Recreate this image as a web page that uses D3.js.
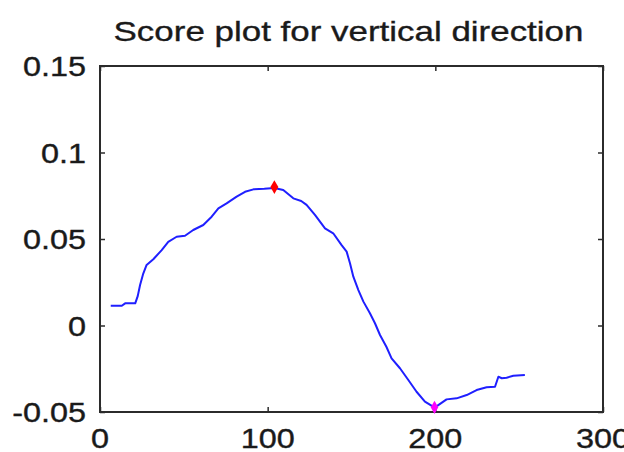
<!DOCTYPE html>
<html>
<head>
<meta charset="utf-8">
<script src="https://cdn.jsdelivr.net/npm/d3@7"></script>
<style>
  html, body { margin: 0; padding: 0; background: #fff; }
  svg { display: block; }
  text { font-family: "Liberation Sans", Arial, sans-serif; fill: #1a1a1a; stroke: #1a1a1a; stroke-width: 0.35px; }
</style>
</head>
<body>
<svg id="chart" width="624" height="452"></svg>
<script>
// ---- data ----
const title = "Score plot for vertical direction";
const xTicks = [0, 100, 200, 300];
const yTicks = [-0.05, 0, 0.05, 0.1, 0.15];
const yTickLabels = ["-0.05", "0", "0.05", "0.1", "0.15"];
const scoreX = [6.4, 13, 15, 21, 22.5, 23.9, 25.8, 27.8, 31.8, 36.8, 40.7, 45.7, 50.7, 55.6, 61.6, 66.6, 70.6, 75.5, 81.5, 86.5, 91.5, 98, 104, 109.3, 115.3, 120, 123.2, 128.2, 134.2, 139.1, 144.1, 147.1, 149.1, 151.1, 154.1, 157.1, 161, 164, 167, 170.8, 173.9, 178.9, 183.9, 188.8, 193.8, 199.6, 206.7, 212.7, 218.7, 224.6, 230.6, 235.6, 237.6, 239.6, 242.5, 246.5, 253.4];
const scoreY = [0.0114, 0.0114, 0.0128, 0.0128, 0.017, 0.0234, 0.030, 0.035, 0.0383, 0.0436, 0.0484, 0.0513, 0.0519, 0.0552, 0.0581, 0.0629, 0.0677, 0.0706, 0.0745, 0.0773, 0.0787, 0.0790, 0.0795, 0.0783, 0.0735, 0.0720, 0.0697, 0.0639, 0.0562, 0.0533, 0.0465, 0.0427, 0.036, 0.0282, 0.0205, 0.0138, 0.0071, 0.0013, -0.0055, -0.0123, -0.019, -0.0247, -0.0315, -0.0383, -0.044, -0.0475, -0.0427, -0.0421, -0.0402, -0.0373, -0.0357, -0.0354, -0.0296, -0.0305, -0.0302, -0.029, -0.0286];
const maxPoint = [104, 0.0800];
const minPoint = [199.5, -0.0473];

// ---- layout ----
const svg = d3.select("#chart");
const mLeft = 100, mRight = 603, mTop = 66, mBottom = 412;
const x = d3.scaleLinear().domain([0, 300]).range([mLeft, mRight]);
const y = d3.scaleLinear().domain([-0.05, 0.15]).range([mBottom, mTop]);
const sx = 1.2;      // horizontal stretch of the original raster
const fs = 27;
const axisColor = "#2b2b2b";

// title
svg.append("text")
  .attr("transform", `translate(${(mLeft + mRight) / 2 - 3},41) scale(${sx * 1.04},1)`)
  .attr("text-anchor", "middle")
  .style("font-size", "28px")
  .text(title);

// axes with inward ticks (MATLAB style)
const tickLen = 5;
const axBottom = d3.axisBottom(x).tickValues(xTicks).tickSize(-tickLen).tickFormat("");
const axTop = d3.axisTop(x).tickValues(xTicks).tickSize(-tickLen).tickFormat("");
const axLeft = d3.axisLeft(y).tickValues(yTicks).tickSize(-tickLen).tickFormat("");
const axRight = d3.axisRight(y).tickValues(yTicks).tickSize(-tickLen).tickFormat("");

function styleAxis(g) {
  g.selectAll(".domain").remove();
  g.selectAll(".tick line").attr("stroke", axisColor).attr("stroke-width", 1.5);
}
svg.append("g").attr("transform", `translate(0,${mBottom})`).call(axBottom).call(styleAxis);
svg.append("g").attr("transform", `translate(0,${mTop})`).call(axTop).call(styleAxis);
svg.append("g").attr("transform", `translate(${mLeft},0)`).call(axLeft).call(styleAxis);
svg.append("g").attr("transform", `translate(${mRight},0)`).call(axRight).call(styleAxis);

// box
svg.append("rect")
  .attr("x", mLeft).attr("y", mTop)
  .attr("width", mRight - mLeft).attr("height", mBottom - mTop)
  .attr("fill", "none").attr("stroke", axisColor).attr("stroke-width", 2);

// tick labels
svg.append("g").selectAll("text").data(xTicks).join("text")
  .attr("transform", d => `translate(${x(d)},${mBottom + 36}) scale(${sx},1)`)
  .attr("text-anchor", "middle")
  .style("font-size", fs + "px")
  .text(d => d);

svg.append("g").selectAll("text").data(yTicks).join("text")
  .attr("transform", d => `translate(${mLeft - 14},${y(d) + 10}) scale(${sx},1)`)
  .attr("text-anchor", "end")
  .style("font-size", fs + "px")
  .text((d, i) => yTickLabels[i]);

// line
const pts = scoreX.map((v, i) => [v, scoreY[i]]);
svg.append("path")
  .datum(pts)
  .attr("fill", "none")
  .attr("stroke", "#1f1fff")
  .attr("stroke-width", 2)
  .attr("stroke-linejoin", "round")
  .attr("d", d3.line().x(d => x(d[0])).y(d => y(d[1])));

// markers
svg.append("path")
  .attr("transform", `translate(${x(maxPoint[0])},${y(maxPoint[1])})`)
  .attr("d", d3.symbol().type(d3.symbolDiamond).size(55))
  .attr("fill", "#ff0000");
svg.append("path")
  .attr("transform", `translate(${x(minPoint[0])},${y(minPoint[1])})`)
  .attr("d", d3.symbol().type(d3.symbolDiamond).size(50))
  .attr("fill", "#ff00ff");
</script>
</body>
</html>
